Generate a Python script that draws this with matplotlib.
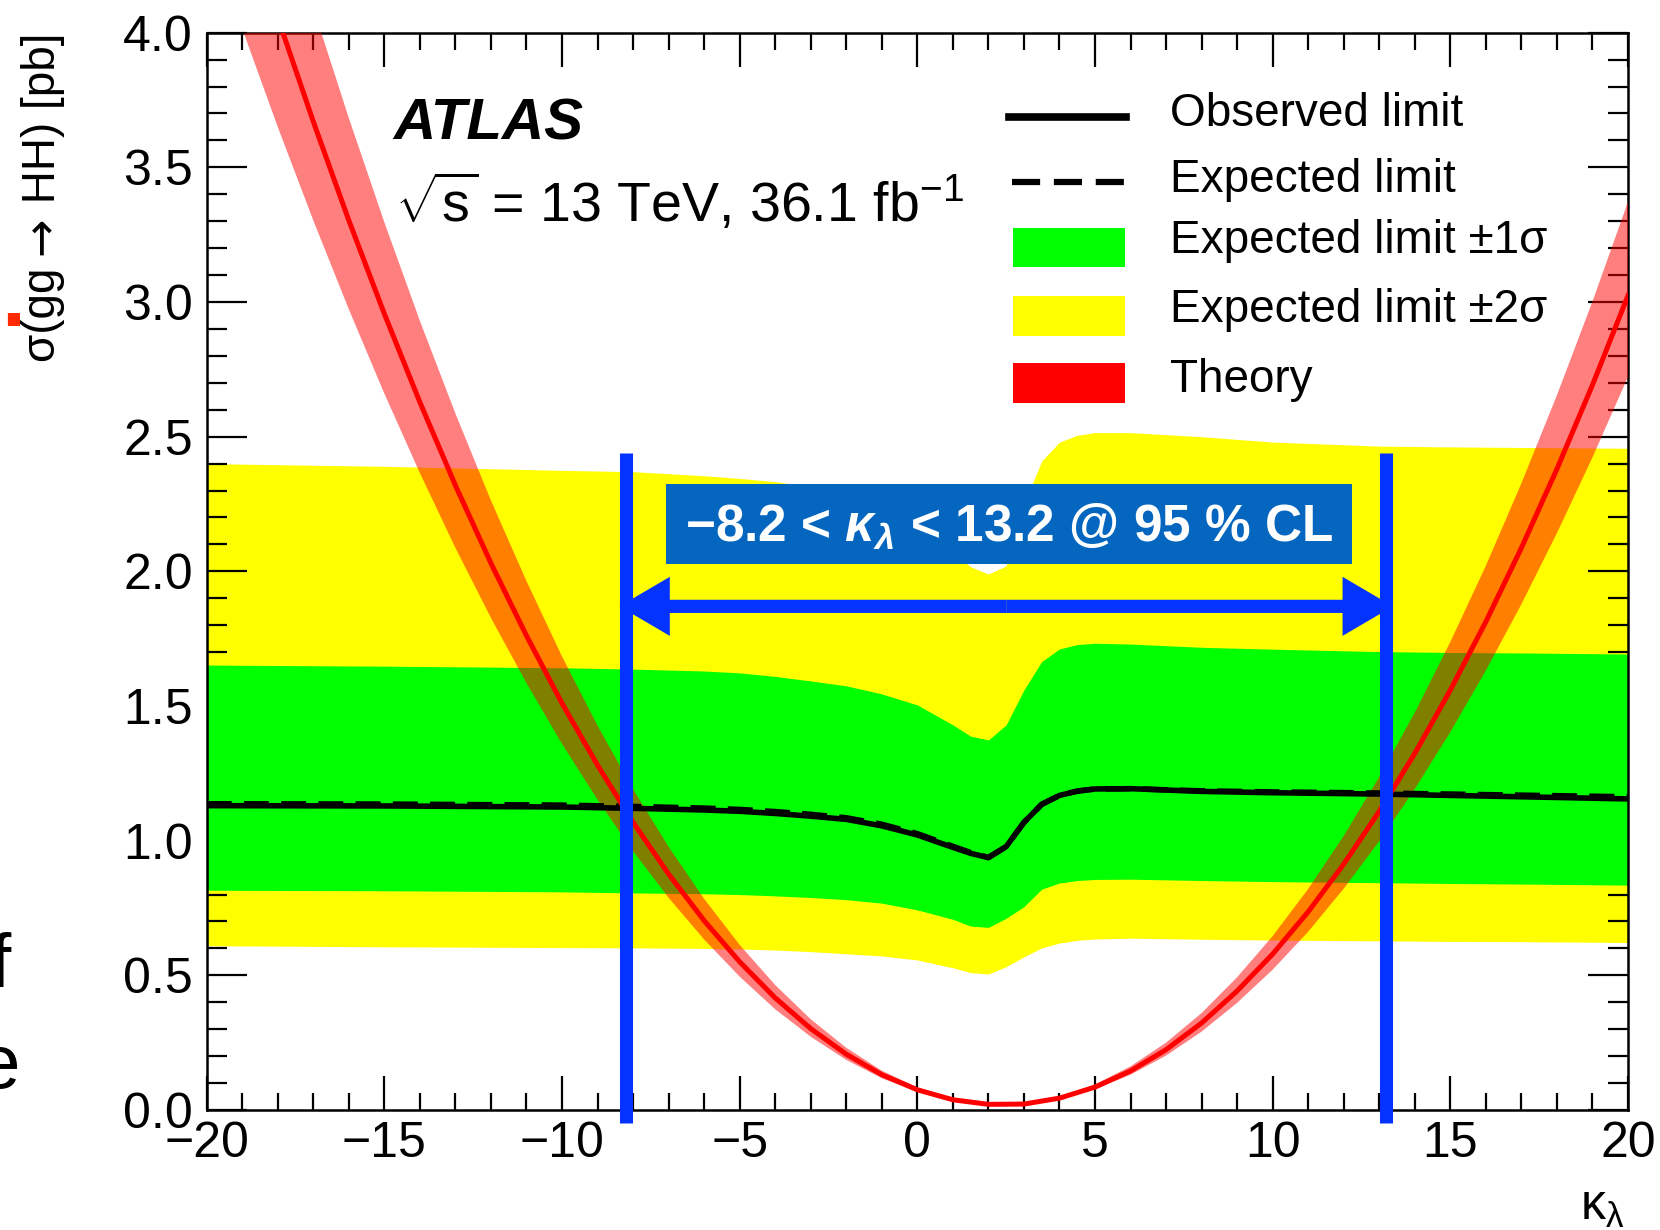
import matplotlib
matplotlib.use("Agg")
import matplotlib.pyplot as plt
from matplotlib.lines import Line2D
from matplotlib.patches import Rectangle, FancyArrowPatch
from matplotlib.ticker import MultipleLocator, FormatStrFormatter

# ---------------------------------------------------------------- data
# kappa_lambda scan points for the limits
kappa_lim = [-20, -15, -10, -8, -6, -5, -4, -3, -2, -1, 0, 1, 1.5, 2, 2.5,
             3, 3.5, 4, 4.5, 5, 6, 8, 10, 13, 15, 17, 20]
observed = [1.130, 1.129, 1.125, 1.120, 1.114, 1.109, 1.101, 1.091, 1.079,
            1.055, 1.021, 0.975, 0.953, 0.937, 0.978, 1.068, 1.135, 1.168,
            1.184, 1.192, 1.193, 1.183, 1.178, 1.173, 1.168, 1.163, 1.155]
expected = [1.137, 1.136, 1.132, 1.127, 1.121, 1.116, 1.108, 1.098, 1.085,
            1.061, 1.026, 0.979, 0.956, 0.938, 0.978, 1.068, 1.135, 1.168,
            1.184, 1.192, 1.193, 1.185, 1.181, 1.177, 1.173, 1.169, 1.163]
band1_hi = [1.652, 1.648, 1.642, 1.637, 1.630, 1.623, 1.610, 1.593, 1.575,
            1.545, 1.504, 1.430, 1.388, 1.374, 1.430, 1.560, 1.665, 1.712,
            1.728, 1.733, 1.730, 1.718, 1.711, 1.702, 1.699, 1.697, 1.693]
band1_lo = [0.816, 0.814, 0.810, 0.806, 0.803, 0.800, 0.795, 0.789, 0.781,
            0.768, 0.743, 0.708, 0.683, 0.678, 0.712, 0.755, 0.820, 0.843,
            0.852, 0.856, 0.857, 0.852, 0.848, 0.844, 0.841, 0.839, 0.835]
band2_hi = [2.400, 2.390, 2.375, 2.370, 2.355, 2.345, 2.333, 2.315, 2.290,
            2.250, 2.180, 2.070, 2.017, 1.990, 2.020, 2.250, 2.410, 2.480,
            2.505, 2.515, 2.515, 2.500, 2.480, 2.465, 2.462, 2.460, 2.457]
band2_lo = [0.610, 0.606, 0.603, 0.602, 0.600, 0.598, 0.594, 0.588, 0.580,
            0.572, 0.557, 0.528, 0.510, 0.505, 0.532, 0.569, 0.602, 0.620,
            0.630, 0.635, 0.638, 0.634, 0.631, 0.628, 0.626, 0.625, 0.622]

# theory prediction sigma(gg -> HH) vs kappa_lambda
kappa_th = list(range(-20, 21))
theory = [4.886, 4.461, 4.056, 3.670, 3.303, 2.956, 2.628, 2.319, 2.030,
          1.761, 1.510, 1.280, 1.068, 0.876, 0.703, 0.550, 0.416, 0.302,
          0.207, 0.131, 0.075, 0.038, 0.021, 0.022, 0.044, 0.085, 0.145,
          0.224, 0.323, 0.442, 0.579, 0.736, 0.913, 1.109, 1.324, 1.559,
          1.813, 2.087, 2.380, 2.692, 3.024]
theory_hi = [5.448, 4.974, 4.522, 4.092, 3.683, 3.296, 2.930, 2.586, 2.263,
             1.964, 1.684, 1.427, 1.191, 0.977, 0.784, 0.613, 0.464, 0.337,
             0.231, 0.146, 0.084, 0.042, 0.023, 0.025, 0.049, 0.095, 0.162,
             0.250, 0.360, 0.493, 0.646, 0.821, 1.018, 1.237, 1.476, 1.738,
             2.021, 2.327, 2.654, 3.002, 3.372]
theory_lo = [4.397, 4.015, 3.650, 3.303, 2.973, 2.660, 2.365, 2.087, 1.827,
             1.585, 1.359, 1.152, 0.961, 0.788, 0.633, 0.495, 0.374, 0.272,
             0.186, 0.118, 0.068, 0.034, 0.019, 0.020, 0.040, 0.077, 0.131,
             0.202, 0.291, 0.398, 0.521, 0.662, 0.822, 0.998, 1.192, 1.403,
             1.632, 1.878, 2.142, 2.423, 2.722]

# 95% CL interval on kappa_lambda
limit_low = -8.2
limit_high = 13.2

legend_labels = ["Observed limit", "Expected limit", "Expected limit ±1σ",
                 "Expected limit ±2σ", "Theory"]

# ---------------------------------------------------------------- style
plt.rcParams["font.family"] = ["Liberation Sans", "DejaVu Sans"]
plt.rcParams["mathtext.fontset"] = "custom"
plt.rcParams["mathtext.rm"] = "Liberation Sans"
plt.rcParams["mathtext.it"] = "Liberation Sans:italic"
plt.rcParams["mathtext.bf"] = "Liberation Sans:bold"
plt.rcParams["mathtext.bfit"] = "Liberation Sans:italic:bold"

W, H = 1660, 1230
BLUE = "#0433ff"
BLUE_LW = 9.4  # points


def fx(px):
    return px / W


def fy(py):
    return 1 - py / H


fig = plt.figure(figsize=(W / 100, H / 100), dpi=100)
ax_left, ax_right = 206.7, 1628.0
ax = fig.add_axes([fx(ax_left), fy(1110), fx(ax_right) - fx(ax_left),
                   fy(32.7) - fy(1110)])

# expected-limit bands
ax.fill_between(kappa_lim, band2_lo, band2_hi, color="#ffff00", lw=0, zorder=1)
ax.fill_between(kappa_lim, band1_lo, band1_hi, color="#00ff00", lw=0, zorder=2)
# theory band
ax.fill_between(kappa_th, theory_lo, theory_hi, color="red", alpha=0.5, lw=0, zorder=3)
# limits
ax.plot(kappa_lim, expected, color="black", lw=4, dashes=(4.5, 2.2), zorder=4)
ax.plot(kappa_lim, observed, color="black", lw=4, zorder=5)
ax.plot(kappa_th, theory, color="red", lw=3.6, zorder=6)

ax.set_xlim(-20, 20)
ax.set_ylim(0, 4)

# interval markers
for k in (limit_low, limit_high):
    ax.plot([k, k], [-0.047, 2.44], color=BLUE, lw=BLUE_LW, solid_capstyle="butt",
            clip_on=False, zorder=8)

# double arrow reaching the outer edges of the two markers
half_lw = BLUE_LW * 100 / 72 / 2 * 40 / (ax_right - ax_left)
mid = 0.5 * (limit_low + limit_high)
for end in (limit_low - half_lw, limit_high + half_lw):
    ax.add_patch(FancyArrowPatch(
        (mid, 1.87), (end, 1.87),
        arrowstyle="simple,head_length=1.45,head_width=1.7,tail_width=0.38",
        mutation_scale=25, color=BLUE, lw=0, shrinkA=0, shrinkB=0, zorder=9))

ax.add_patch(Rectangle((-7.07, 2.027), 19.3, 0.298, facecolor="#0566c0",
                       edgecolor="none", zorder=10))
ax.text(2.58, 2.11,
        f"\u2212{abs(limit_low):.1f} < "
        r"$\mathbfit{\kappa}_{\mathbfit{\lambda}}$"
        f" < {limit_high:.1f} @ 95 % CL",
        color="white", fontsize=37, fontweight="bold",
        ha="center", va="baseline", zorder=11)

# axes
ax.xaxis.set_major_locator(MultipleLocator(5))
ax.xaxis.set_minor_locator(MultipleLocator(1))
ax.yaxis.set_major_locator(MultipleLocator(0.5))
ax.yaxis.set_minor_locator(MultipleLocator(0.1))
ax.yaxis.set_major_formatter(FormatStrFormatter("%.1f"))
ax.tick_params(which="both", direction="in", top=True, right=True,
               width=1.6, colors="black")
ax.tick_params(axis="x", which="major", length=24.5, labelsize=36, pad=8)
ax.tick_params(axis="x", which="minor", length=12.2)
ax.tick_params(axis="y", which="major", length=28.8, labelsize=36, pad=10)
ax.tick_params(axis="y", which="minor", length=14.4)
for s in ax.spines.values():
    s.set_linewidth(1.8)

# y-axis title, built from pieces so the arrow can come from a font with a longer glyph
renderer = fig.canvas.get_renderer()
ylab_parts = [("σ(gg ", ["Liberation Sans"]), ("→", ["DejaVu Sans"]),
              (" HH) [pb]", ["Liberation Sans"])]
ylab_texts = [fig.text(fx(65), 0, s, rotation=90, ha="right", va="bottom",
                       fontsize=33, family=fam) for s, fam in ylab_parts]
heights = [t.get_window_extent(renderer).height for t in ylab_texts]
y_cursor = H - 33 - sum(heights)
for t, h in zip(ylab_texts, heights):
    t.set_y(y_cursor / H)
    y_cursor += h

fig.text(fx(1625), fy(1220), r"$\mathrm{\kappa}_{\mathrm{\lambda}}$",
         ha="right", va="baseline", fontsize=36)

# experiment label
fig.text(fx(393), fy(140), "ATLAS", fontsize=42, fontweight="bold",
         fontstyle="italic", ha="left", va="baseline")
fig.text(fx(395), fy(222), r"$\sqrt{\mathrm{s}}$ = 13 TeV, 36.1 fb$^{-1}$",
         fontsize=40, ha="left", va="baseline")

# legend
fig.add_artist(Line2D([fx(1009), fx(1126)], [fy(116.7)] * 2, color="black", lw=5.5))
fig.add_artist(Line2D([fx(1012), fx(1124)], [fy(181.7)] * 2, color="black", lw=4.5,
                      dashes=(4.5, 2.2)))
for (top, bot), col in zip([(228, 267), (296, 336), (363, 403)],
                           ["#00ff00", "#ffff00", "#ff0000"]):
    fig.add_artist(Rectangle((fx(1012.6), fy(bot)), fx(1125) - fx(1012.6),
                             fy(top) - fy(bot), transform=fig.transFigure,
                             facecolor=col, edgecolor="none"))
for base, lab in zip([126, 192, 253, 322, 392], legend_labels):
    fig.text(fx(1170), fy(base), lab, fontsize=33, ha="left", va="baseline")

# slide text clipped at the left edge
fig.text(fx(-10), fy(987), "f", fontsize=55, ha="left", va="baseline")
fig.text(fx(-22), fy(1088), "e", fontsize=55, ha="left", va="baseline")
fig.text(fx(25), fy(326), ".", fontsize=62, fontweight="bold", color="#ff2a00",
         ha="right", va="baseline")

fig.savefig("out.png", dpi=100)
